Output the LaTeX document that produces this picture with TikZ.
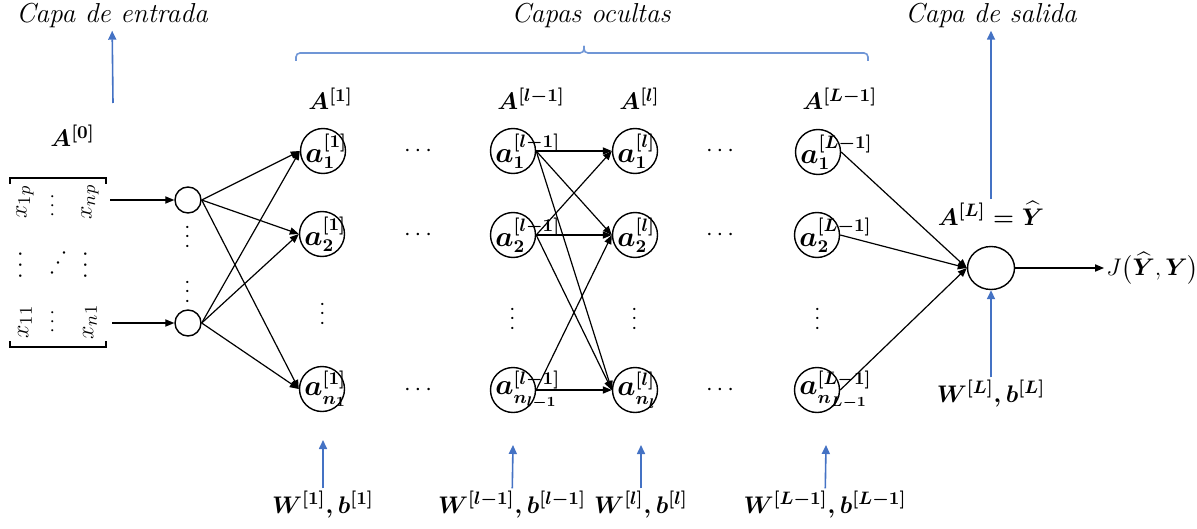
\documentclass[tikz,border=0pt]{standalone}
\usepackage{amsmath}
\usepackage{tikz}
\usetikzlibrary{arrows.meta, shapes.geometric}
\definecolor{arrblue}{RGB}{68, 114, 196}
\definecolor{braceblue}{RGB}{112, 150, 214}
\newcommand{\nlab}[1]{\makebox[0pt][l]{\hspace{-8.8pt}$\boldsymbol{#1}$}}

\begin{document}
\begin{tikzpicture}[
    x=0.5pt, y=-0.5pt,
    neuron/.style={draw, line width=0.7pt, circle, minimum size=22.5pt,
                   inner sep=0pt, font=\fontsize{13.5}{15}\selectfont},
    inneuron/.style={draw, line width=0.7pt, circle, minimum size=13pt,
                     inner sep=0pt},
    outneuron/.style={draw, line width=0.7pt, ellipse, minimum width=23.5pt,
                      minimum height=21.5pt, inner sep=0pt},
    lbl/.style={font=\fontsize{13}{15}\selectfont, inner sep=1pt},
    vdot/.style={font=\fontsize{10.5}{12}\selectfont, inner sep=0pt, rotate=90},
    capt/.style={font=\fontsize{13.7}{16}\selectfont\itshape,
                 inner sep=1pt, text=black},
    arr/.style={-{Triangle[length=4.5pt, width=3.6pt]}, line width=0.6pt},
    blarr/.style={-{Triangle[length=4.5pt, width=4pt]}, line width=0.8pt,
                  color=arrblue},
]
    \useasboundingbox (0,0) rectangle (1197,529);

    % captions
    \node[capt, anchor=base] (entrada) at (112,23) {Capa de entrada};
    \node[capt, anchor=base] (ocultas) at (591,23) {Capas ocultas};
    \node[capt, anchor=base] (salida) at (991,23) {Capa de salida};
    \draw[braceblue, line width=0.8pt, rounded corners=2pt]
        (296,61) |- (584,53) -- (584,46);
    \draw[braceblue, line width=0.8pt, rounded corners=2pt]
        (584,46) -- (584,53) -| (868,61);

    % input matrix
    \node[lbl, anchor=base west] (A0) at (48,147) {$\boldsymbol{A^{[0]}}$};
    \node[lbl, rotate=90] (x1p) at (25,202) {$x_{1p}$};
    \node[lbl, rotate=90] (xnp) at (90,202) {$x_{np}$};
    \node[lbl, rotate=90] (x11) at (25,322) {$x_{11}$};
    \node[lbl, rotate=90] (xn1) at (90,322) {$x_{n1}$};
    \node[lbl, rotate=90, font=\fontsize{10}{12}\selectfont] (xd1) at (53,204) {$\cdots$};
    \node[lbl, rotate=90, font=\fontsize{10}{12}\selectfont] (xd2) at (53,320) {$\cdots$};
    \node[lbl, rotate=90] (xd3) at (21,263) {$\cdots$};
    \node[lbl, rotate=90] (xd4) at (86,263) {$\cdots$};
    \node[lbl, rotate=90] (xd5) at (52,263) {$\ddots$};
    \draw[line width=1pt] (10,184) -- (10,178) -- (106,178) -- (106,184);
    \draw[line width=1pt] (10,341) -- (10,347) -- (106,347) -- (106,341);
    \coordinate (m1) at (110,200);
    \coordinate (mn) at (112,323);
    \coordinate (e0) at (113,103);

    % input neurons
    \node[inneuron] (i1) at (188,200) {};
    \node[inneuron] (in) at (188,323) {};
    \node[vdot] (iv1) at (188,235) {$\cdots$};
    \node[vdot] (iv2) at (188,290) {$\cdots$};

    % layer 1
    \node[lbl, anchor=base west] (A1) at (306,110) {$\boldsymbol{A^{[1]}}$};
    \node[neuron] (a11) at (323,151) {\nlab{a_1^{[1]}}};
    \node[neuron] (a12) at (322,234) {\nlab{a_2^{[1]}}};
    \node[vdot] (a1v) at (323,312) {$\cdots$};
    \node[neuron] (a1n) at (322,389) {\nlab{a_{n_1}^{[1]}}};
    \node[lbl, anchor=base] (w1) at (323,513) {$\boldsymbol{W^{[1]}, b^{[1]}}$};
    \coordinate (t1) at (323,440);

    % dots
    \node[lbl] (h1) at (420,151) {$\cdots$};
    \node[lbl] (h2) at (420,235) {$\cdots$};
    \node[lbl] (h3) at (420,390) {$\cdots$};

    % layer l-1
    \node[lbl, anchor=base west] (Ab) at (495,110) {$\boldsymbol{A^{[l-1]}}$};
    \node[neuron] (b1) at (513,151) {\nlab{a_1^{[l-1]}}};
    \node[neuron] (b2) at (513,235) {\nlab{a_2^{[l-1]}}};
    \node[vdot] (bv) at (513,317) {$\cdots$};
    \node[neuron] (bn) at (513,390) {\nlab{a_{n_{l-1}}^{[l-1]}}};
    \node[lbl, anchor=base] (wb) at (512,513) {$\boldsymbol{W^{[l-1]}, b^{[l-1]}}$};
    \coordinate (tb) at (513,445);

    % layer l
    \node[lbl, anchor=base west] (Ac) at (617,110) {$\boldsymbol{A^{[l]}}$};
    \node[neuron] (c1) at (635,151) {\nlab{a_1^{[l]}}};
    \node[neuron] (c2) at (635,235) {\nlab{a_2^{[l]}}};
    \node[vdot] (cv) at (635,317) {$\cdots$};
    \node[neuron] (cn) at (635,390) {\nlab{a_{n_l}^{[l]}}};
    \node[lbl, anchor=base] (wc) at (641,513) {$\boldsymbol{W^{[l]}, b^{[l]}}$};
    \coordinate (tc) at (641,445);

    % dots
    \node[lbl] (h4) at (722,151) {$\cdots$};
    \node[lbl] (h5) at (722,235) {$\cdots$};
    \node[lbl] (h6) at (722,390) {$\cdots$};

    % layer L-1
    \node[lbl, anchor=base west] (Ad) at (800,110) {$\boldsymbol{A^{[L-1]}}$};
    \node[neuron] (d1) at (818,152) {\nlab{a_1^{[L-1]}}};
    \node[neuron] (d2) at (817,235) {\nlab{a_2^{[L-1]}}};
    \node[vdot] (dv) at (818,317) {$\cdots$};
    \node[neuron] (dn) at (817,390) {\nlab{a_{n_{L-1}}^{[L-1]}}};
    \node[lbl, anchor=base] (wd) at (825,513) {$\boldsymbol{W^{[L-1]}, b^{[L-1]}}$};
    \coordinate (td) at (826,445);

    % output
    \node[lbl, anchor=base] (AL) at (991,225) {$\boldsymbol{A^{[L]} = \widehat{Y}}$};
    \node[outneuron] (y) at (991,268) {};
    \node[lbl, anchor=base] (wL) at (991,402) {$\boldsymbol{W^{[L]}, b^{[L]}}$};
    \node[lbl, anchor=west, font=\fontsize{12}{14}\selectfont] (J) at (1104,268)
        {$J\bigl(\widehat{\boldsymbol{Y}},\boldsymbol{Y}\bigr)$};

    % connections
    \draw[arr] (m1) -- (i1.west);
    \draw[arr] (mn) -- (in.west);
    \draw[arr] (i1.east) -- (a11.west);
    \draw[arr] (i1.east) -- (a12.west);
    \draw[arr] (i1.east) -- (a1n.west);
    \draw[arr] (in.east) -- (a11.west);
    \draw[arr] (in.east) -- (a12.west);
    \draw[arr] (in.east) -- (a1n.west);
    \draw[arr] (b1.east) -- (c1.west);
    \draw[arr] (b1.east) -- (c2.west);
    \draw[arr] (b1.east) -- (cn.west);
    \draw[arr] (b2.east) -- (c1.west);
    \draw[arr] (b2.east) -- (c2.west);
    \draw[arr] (b2.east) -- (cn.west);
    \draw[arr] (bn.east) -- (c2.west);
    \draw[arr] (bn.east) -- (cn.west);
    \draw[arr] (d1.east) -- (y.west);
    \draw[arr] (d2.east) -- (y.west);
    \draw[arr] (dn.east) -- (y.west);
    \draw[arr] (y.east) -- (J.west);

    % blue arrows
    \draw[blarr] (e0) -- (entrada);
    \draw[blarr] (AL) -- (salida);
    \draw[blarr] (wL) -- (y);
    \draw[blarr] (w1) -- (t1);
    \draw[blarr] (wb) -- (tb);
    \draw[blarr] (wc) -- (tc);
    \draw[blarr] (wd) -- (td);
\end{tikzpicture}
\end{document}
